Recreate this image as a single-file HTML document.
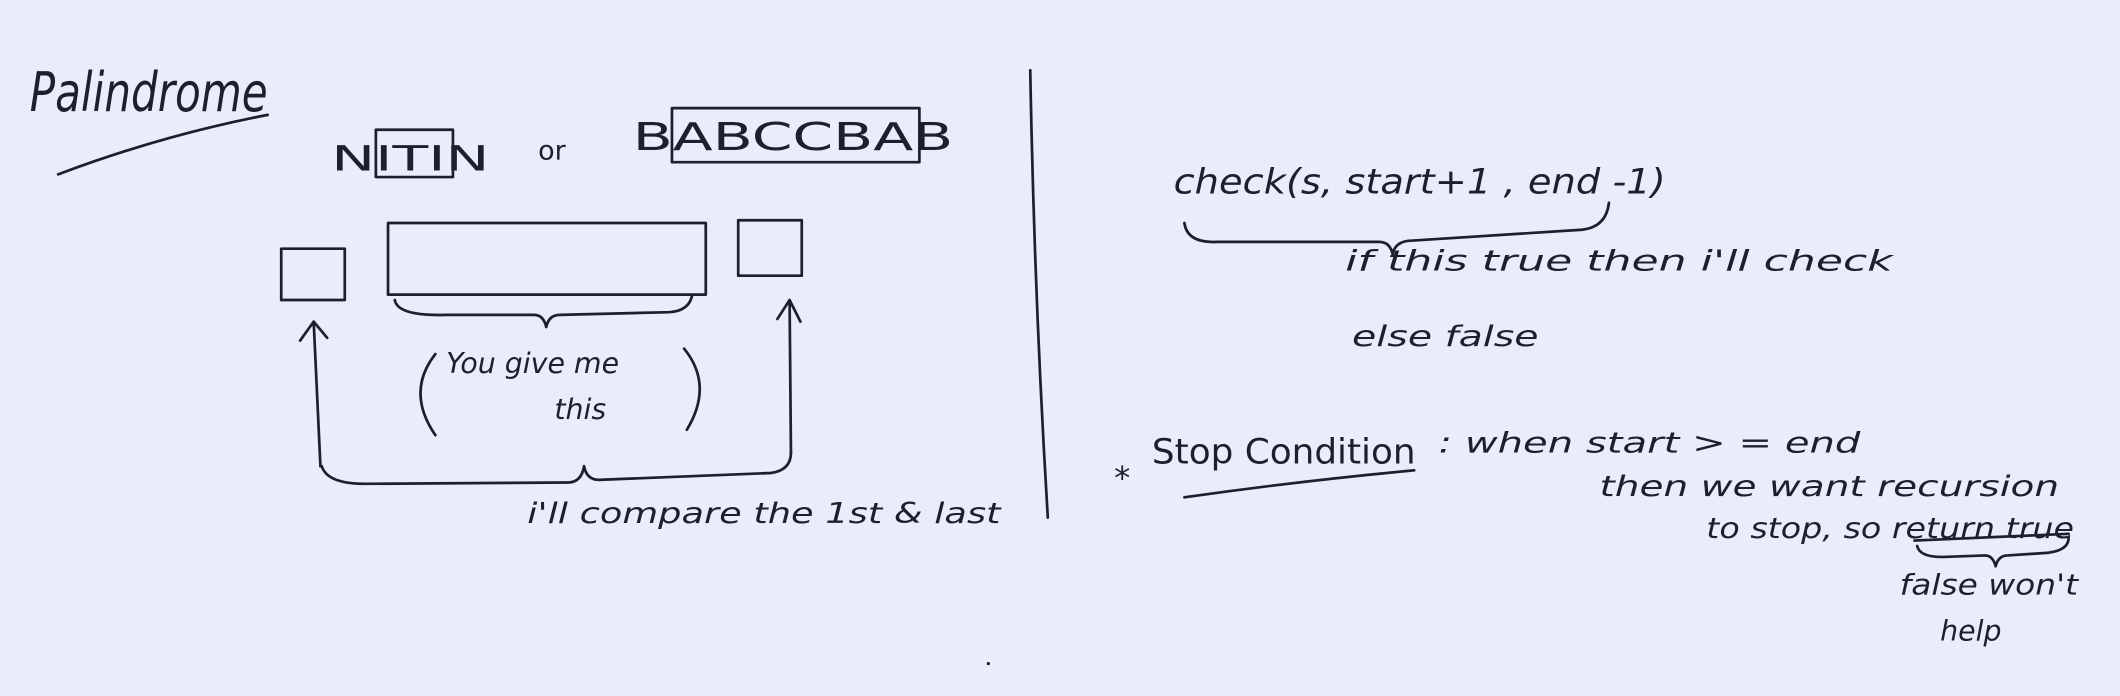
<!DOCTYPE html>
<html><head><meta charset="utf-8"><style>
html,body{margin:0;padding:0;background:#e9ecfb;}
svg{display:block;}
text{font-family:"DejaVu Sans","Liberation Sans",sans-serif;fill:#1c1f2e;}
.s{fill:none;stroke:#1c1f2e;stroke-width:2;stroke-linecap:round;stroke-linejoin:round;}
</style></head><body>
<svg width="2120" height="696" viewBox="0 0 1568 515" preserveAspectRatio="none">
<rect width="1568" height="515" fill="#e9ecfb"/>
<g>
<text x="22" y="82" font-size="40" font-style="italic" textLength="176" lengthAdjust="spacingAndGlyphs">Palindrome</text>
<path class="s" d="M43 129 Q120 100 198 85"/>
</g>
<g>
<text x="245" y="126" font-size="26" textLength="117" lengthAdjust="spacingAndGlyphs">NITIN</text>
<rect class="s" x="278" y="96" width="57" height="35"/>
<text x="398" y="118" font-size="20">or</text>
<text x="468" y="111" font-size="28" textLength="237" lengthAdjust="spacingAndGlyphs">BABCCBAB</text>
<rect class="s" x="497" y="80" width="183" height="40"/>
</g>
<g>
<rect class="s" x="208" y="184" width="47" height="38"/>
<rect class="s" x="287" y="165" width="235" height="53"/>
<rect class="s" x="546" y="163" width="47" height="41"/>
<path class="s" d="M292 222 Q294 234 330 233 L395 233 Q402 233 404 242 Q406 233 414 233 L495 231 Q510 230 512 218"/>
<text x="330" y="276" font-size="21" font-style="italic">You give me</text>
<text x="410" y="310" font-size="21" font-style="italic">this</text>
<path class="s" d="M322 262 Q300 290 322 322"/>
<path class="s" d="M506 258 Q528 285 508 318"/>
<path class="s" d="M237 345 L232 238 M222 252 L232 238 L242 250"/>
<path class="s" d="M585 335 L584 222 M575 236 L584 222 L592 238"/>
<path class="s" d="M238 345 Q242 358 270 358 L420 357 Q430 357 432 345 Q434 356 445 355 L570 350 Q585 348 585 335"/>
<text x="390" y="387" font-size="21" font-style="italic" textLength="350" lengthAdjust="spacingAndGlyphs">i'll compare the 1st &amp; last</text>
</g>
<path class="s" d="M762 52 Q765 220 775 383"/>
<g>
<text x="868" y="143" font-size="26" font-style="italic" textLength="364" lengthAdjust="spacingAndGlyphs">check(s, start+1 , end -1)</text>
<path class="s" d="M876 165 Q878 180 900 179 L1020 179 Q1028 179 1030 188 Q1032 178 1045 178 L1170 170 Q1188 168 1190 150"/>
<text x="995" y="200" font-size="21" font-style="italic" textLength="405" lengthAdjust="spacingAndGlyphs">if this true then i'll check</text>
<text x="1000" y="256" font-size="21" font-style="italic" textLength="138" lengthAdjust="spacingAndGlyphs">else false</text>
<text x="824" y="362" font-size="24">*</text>
<text x="852" y="343" font-size="26" textLength="195" lengthAdjust="spacingAndGlyphs">Stop Condition</text>
<path class="s" d="M876 368 Q960 356 1046 348"/>
<text x="1064" y="335" font-size="21" font-style="italic" textLength="312" lengthAdjust="spacingAndGlyphs">:  when  start &gt; = end</text>
<text x="1183" y="367" font-size="21" font-style="italic" textLength="340" lengthAdjust="spacingAndGlyphs">then we want recursion</text>
<text x="1262" y="398" font-size="21" font-style="italic" textLength="272" lengthAdjust="spacingAndGlyphs">to stop, so return true</text>
<path class="s" d="M1416 400 L1530 395 M1418 404 Q1420 413 1440 412 L1468 411 Q1474 411 1476 419 Q1478 411 1485 411 L1515 409 Q1530 407 1530 398"/>
<text x="1405" y="440" font-size="21" font-style="italic" textLength="132" lengthAdjust="spacingAndGlyphs">false won't</text>
<text x="1435" y="474" font-size="21" font-style="italic">help</text>
</g>
<circle cx="731" cy="491" r="1.2" fill="#1c1f2e"/>
</svg>
</body></html>
